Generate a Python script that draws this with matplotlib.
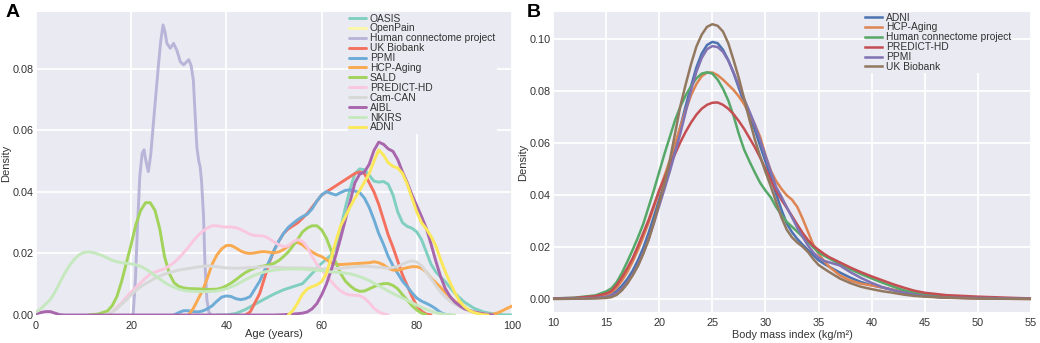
import matplotlib
matplotlib.use("Agg")
import matplotlib.pyplot as plt

plt.rcParams['font.family'] = ['Liberation Sans', 'DejaVu Sans']

# ---------------- Panel A : age densities ----------------
oasis_age = [38, 40, 42, 44, 46, 48, 50, 52, 54, 56, 58, 60, 62, 63, 64, 65, 66, 67, 68, 69, 70, 71, 72, 73, 74, 75,
             76, 77, 78, 79, 80, 81, 82, 83, 84, 86, 88, 90, 92, 94, 96, 98, 100]
oasis_den = [0, 0.0, 0.0005, 0.0018, 0.0035, 0.0052, 0.0068, 0.0082, 0.0092, 0.0102, 0.0135, 0.0168, 0.0195, 0.022,
             0.028, 0.035, 0.041, 0.046, 0.0475, 0.0472, 0.0455, 0.0435, 0.0432, 0.0434, 0.0425, 0.039, 0.0335, 0.030,
             0.0288, 0.0282, 0.027, 0.0245, 0.0205, 0.0165, 0.014, 0.0108, 0.007, 0.0042, 0.0022, 0.001, 0.0004,
             0.0001, 0]

openpain_age = []
openpain_den = []

hcp_age = [20.4, 20.9, 21.3, 21.8, 22.3, 22.7, 23.1, 23.6, 24.1, 24.6, 25.2, 25.7, 26.2, 26.7, 27.1, 27.5, 28.2,
           28.9, 29.6, 30.3, 31.0, 31.7, 32.1, 32.6, 33.05, 33.4, 33.8, 34.2, 34.5, 34.8, 35.2, 35.5, 35.9, 36.3, 36.8]
hcp_den = [0, 0.012, 0.028, 0.045, 0.0525, 0.0537, 0.050, 0.0466, 0.052, 0.0612, 0.072, 0.0808, 0.089, 0.0943, 0.092,
           0.0883, 0.0867, 0.0883, 0.086, 0.0824, 0.0813, 0.0824, 0.083, 0.081, 0.0764, 0.066, 0.0545, 0.050, 0.048,
           0.043, 0.032, 0.0165, 0.005, 0.001, 0]

ukb_age = [44, 45, 46, 47, 48, 49, 50, 51, 52, 53, 54, 55, 56, 57, 58, 59, 60, 61, 62, 63, 64, 65, 66, 67, 68, 69, 70,
           71, 72, 73, 74, 75, 76, 77, 78, 79, 80, 81, 82, 83]
ukb_den = [0, 0.001, 0.004, 0.007, 0.012, 0.017, 0.021, 0.024, 0.0265, 0.028, 0.029, 0.030, 0.0315, 0.033, 0.035, 0.037,
           0.039, 0.040, 0.041, 0.042, 0.043, 0.044, 0.045, 0.046, 0.0465, 0.046, 0.043, 0.040, 0.036, 0.031, 0.026,
           0.022, 0.0175, 0.013, 0.0095, 0.006, 0.003, 0.0012, 0.0003, 0]

ppmi_age = [29, 30, 31, 32, 33, 34, 35, 36, 37, 38, 39, 40, 41, 42, 43, 44, 45, 46, 47, 48, 49, 50, 51, 52, 53, 54, 55,
            56, 57, 58, 59, 60, 61, 62, 63, 64, 65, 66, 67, 68, 69, 70, 71, 72, 73, 74, 75, 76, 77, 78, 79, 80, 81, 82,
            83, 84, 85, 86, 87]
ppmi_den = [0, 0.0008, 0.0014, 0.0014, 0.0011, 0.001, 0.0013, 0.002, 0.003, 0.0045, 0.0058, 0.0062, 0.006, 0.0053,
            0.005, 0.0053, 0.006, 0.0085, 0.011, 0.0145, 0.0175, 0.021, 0.024, 0.0265, 0.0285, 0.0298, 0.031, 0.032,
            0.0328, 0.0345, 0.037, 0.039, 0.0401, 0.0395, 0.039, 0.0398, 0.0405, 0.0407, 0.0403, 0.0398, 0.038, 0.035,
            0.031, 0.0265, 0.023, 0.019, 0.016, 0.0135, 0.011, 0.0092, 0.0072, 0.0055, 0.0045, 0.0038, 0.003, 0.002,
            0.0008, 0.0002, 0]

hcpa_age = [32, 33, 34, 35, 36, 37, 38, 39, 40, 41, 42, 43, 44, 45, 46, 47, 48, 49, 50, 51, 52, 53, 54, 55, 56, 57, 58,
            59, 60, 61, 62, 63, 64, 66, 68, 70, 71, 72, 73, 74, 75, 76, 77, 78, 79, 80, 81, 82, 83, 84, 85, 86, 87, 88,
            89, 90, 91, 92, 93, 94, 95, 96, 97, 98, 99, 100]
hcpa_den = [0, 0.002, 0.005, 0.008, 0.012, 0.0165, 0.0195, 0.0215, 0.0226, 0.0226, 0.0218, 0.0208, 0.0202, 0.020,
            0.0202, 0.0205, 0.0206, 0.0204, 0.0202, 0.0205, 0.0213, 0.0224, 0.0233, 0.0236, 0.0228, 0.0215, 0.0205,
            0.0196, 0.019, 0.018, 0.017, 0.0165, 0.0164, 0.0166, 0.0168, 0.017, 0.0173, 0.017, 0.0163, 0.0152, 0.0146,
            0.0146, 0.015, 0.0154, 0.0157, 0.0157, 0.0152, 0.014, 0.012, 0.0105, 0.009, 0.0073, 0.0058, 0.0045, 0.0033,
            0.0023, 0.0015, 0.0009, 0.0005, 0.0003, 0.0002, 0.0003, 0.0007, 0.0014, 0.0022, 0.0029]

sald_age = [11, 13, 15, 16, 17, 18, 19, 20, 21, 22, 23, 24, 25, 26, 27, 28, 29, 30, 31, 32, 34, 36, 38, 39, 40, 41, 42,
            43, 44, 45, 46, 47, 48, 49, 50, 51, 52, 53, 54, 55, 56, 57, 58, 59, 60, 61, 62, 63, 64, 65, 66, 67, 68,
            69, 70, 71, 72, 73, 74, 75, 76, 77, 78, 79, 80, 81, 82]
sald_den = [0, 0.0003, 0.0013, 0.003, 0.006, 0.011, 0.017, 0.023, 0.0295, 0.034, 0.0365, 0.0365, 0.034, 0.028, 0.019,
            0.0135, 0.0105, 0.0093, 0.0088, 0.0086, 0.0085, 0.0083, 0.0084, 0.0088, 0.0095, 0.0104, 0.0115, 0.0127,
            0.0138, 0.0146, 0.0153, 0.0157, 0.016, 0.0163, 0.0168, 0.0177, 0.019, 0.0205, 0.0225, 0.0247, 0.027,
            0.0283, 0.029, 0.029, 0.0277, 0.025, 0.021, 0.017, 0.0135, 0.011, 0.0095, 0.0083, 0.0077, 0.0078, 0.0085,
            0.0092, 0.0098, 0.0102, 0.0102, 0.0096, 0.0085, 0.0066, 0.0048, 0.003, 0.0016, 0.0006, 0]

phd_age = [15, 16, 17, 18, 19, 20, 21, 22, 23, 24, 25, 26, 27, 28, 29, 30, 31, 32, 33, 34, 35, 36, 37, 38, 39, 40, 41,
           42, 43, 44, 45, 46, 47, 48, 49, 50, 51, 52, 53, 54, 55, 56, 57, 58, 59, 60, 61, 62, 63, 64, 65, 66, 67, 68,
           69, 70, 71, 72, 73, 74]
phd_den = [0, 0.001, 0.0025, 0.004, 0.0058, 0.0075, 0.009, 0.0105, 0.012, 0.0133, 0.014, 0.0145, 0.015, 0.016, 0.017,
           0.0185, 0.0202, 0.022, 0.024, 0.0258, 0.0272, 0.0283, 0.029, 0.029, 0.0287, 0.0286, 0.0286, 0.0284, 0.0278,
           0.027, 0.0262, 0.0258, 0.0258, 0.0256, 0.0248, 0.0238, 0.0228, 0.0222, 0.0225, 0.0238, 0.0245, 0.024,
           0.022, 0.019, 0.0165, 0.0148, 0.0128, 0.011, 0.0092, 0.0078, 0.0069, 0.0065, 0.0064, 0.0063, 0.0055, 0.004,
           0.0022, 0.001, 0.0004, 0]

camcan_age = [15, 16, 17, 18, 19, 20, 21, 22, 23, 24, 25, 26, 27, 28, 29, 30, 32, 34, 36, 38, 40, 42, 44, 46, 48, 50,
              52, 54, 56, 58, 60, 62, 64, 66, 68, 70, 72, 74, 76, 78, 79, 80, 81, 82, 83, 84, 85, 86, 87, 88, 89, 90,
              92, 94, 96]
camcan_den = [0, 0.001, 0.002, 0.0035, 0.005, 0.0065, 0.008, 0.0092, 0.0102, 0.011, 0.012, 0.0127, 0.0133, 0.0138,
              0.0142, 0.0146, 0.0151, 0.0156, 0.016, 0.0157, 0.0153, 0.0152, 0.0153, 0.0155, 0.0157, 0.0156, 0.0154,
              0.0153, 0.0153, 0.0152, 0.015, 0.015, 0.0152, 0.0155, 0.0158, 0.0158, 0.0155, 0.0152, 0.0158, 0.0172,
              0.0176, 0.0172, 0.016, 0.014, 0.0118, 0.0095, 0.0075, 0.0058, 0.0045, 0.0035, 0.0027, 0.002, 0.001,
              0.0004, 0]

aibl_age = [0, 1, 2, 3, 4, 5, 6, 50, 52, 54, 56, 57, 58, 59, 60, 61, 62, 63, 64, 65, 66, 67, 68, 69, 70, 71, 72, 73,
            74, 75, 76, 77, 78, 79, 80, 81, 82, 83, 84, 85, 86, 87, 88, 89, 90, 92, 94, 96]
aibl_den = [0.0004, 0.0008, 0.0011, 0.0011, 0.0006, 0.0001, 0, 0, 0.0001, 0.0003, 0.0006, 0.001, 0.002, 0.0037, 0.0065,
            0.01, 0.0145, 0.0195, 0.025, 0.031, 0.037, 0.043, 0.0458, 0.0465, 0.049, 0.0535, 0.0562, 0.0555, 0.054,
            0.0532, 0.0505, 0.0465, 0.043, 0.039, 0.0355, 0.032, 0.0282, 0.023, 0.0175, 0.0125, 0.0085, 0.006, 0.0042,
            0.003, 0.002, 0.001, 0.0004, 0]

nkirs_age = [0, 1, 2, 3, 4, 5, 6, 7, 8, 9, 10, 11, 12, 13, 14, 15, 16, 17, 18, 19, 20, 21, 22, 23, 24, 25, 26, 27, 28,
             29, 30, 31, 32, 34, 36, 38, 40, 42, 44, 46, 48, 50, 52, 54, 56, 58, 60, 62, 64, 66, 68, 70, 72, 74, 76,
             78, 80, 82, 84, 86, 88]
nkirs_den = [0.001, 0.002, 0.0035, 0.005, 0.0075, 0.0105, 0.0135, 0.016, 0.018, 0.0195, 0.0203, 0.0205, 0.0203, 0.0198,
             0.0193, 0.0185, 0.0178, 0.0173, 0.017, 0.0168, 0.0166, 0.0163, 0.0158, 0.015, 0.014, 0.0128, 0.0117,
             0.0106, 0.0097, 0.009, 0.0084, 0.008, 0.0078, 0.0076, 0.0076, 0.0078, 0.0085, 0.0098, 0.0115, 0.013,
             0.014, 0.0146, 0.0149, 0.015, 0.0149, 0.0147, 0.0144, 0.014, 0.0138, 0.0134, 0.0125, 0.0112, 0.0095,
             0.0078, 0.0062, 0.0048, 0.0032, 0.0018, 0.0007, 0.0002, 0]

adni_age = [53, 54, 55, 56, 57, 58, 59, 60, 61, 62, 63, 64, 65, 66, 67, 68, 69, 70, 71, 72, 73, 74, 75, 76, 77, 78, 79,
            80, 81, 82, 83, 84, 85, 86, 87, 88, 89, 90, 91, 92, 93, 94, 95]
adni_den = [0, 0.0015, 0.004, 0.0068, 0.0085, 0.0092, 0.0098, 0.0108, 0.0135, 0.0185, 0.024, 0.029, 0.032, 0.0352,
            0.038, 0.0405, 0.0432, 0.046, 0.050, 0.0537, 0.052, 0.0495, 0.0483, 0.0478, 0.046, 0.0425, 0.038, 0.0335,
            0.030, 0.028, 0.0255, 0.0225, 0.018, 0.014, 0.0105, 0.0072, 0.0045, 0.0027, 0.0015, 0.0008, 0.0004,
            0.0001, 0]

labels_a = ['OASIS', 'OpenPain', 'Human connectome project', 'UK Biobank', 'PPMI', 'HCP-Aging', 'SALD',
            'PREDICT-HD', 'Cam-CAN', 'AIBL', 'NKIRS', 'ADNI']
colors_a = ['#80cfc0', '#fbf7a8', '#b8b5d9', '#f4705f', '#6dacd6', '#f9a94f', '#a2d35a',
            '#f9c8de', '#d8d8d8', '#a866ad', '#c6e8bf', '#fbe85a']
series_a = [(oasis_age, oasis_den), (openpain_age, openpain_den), (hcp_age, hcp_den), (ukb_age, ukb_den),
            (ppmi_age, ppmi_den), (hcpa_age, hcpa_den), (sald_age, sald_den), (phd_age, phd_den),
            (camcan_age, camcan_den), (aibl_age, aibl_den), (nkirs_age, nkirs_den), (adni_age, adni_den)]

# ---------------- Panel B : BMI densities ----------------
bmi_grid = [10, 12, 14, 15, 15.5, 16, 16.5, 17, 17.5, 18, 18.5, 19, 19.5, 20, 20.5, 21, 21.5, 22, 22.5, 23, 23.5,
            24, 24.5, 25, 25.5, 26, 26.5, 27, 27.5, 28, 28.5, 29, 29.5, 30, 30.5, 31, 31.5, 32, 32.5, 33, 33.5, 34,
            34.5, 35, 35.5, 36, 37, 38, 39, 40, 41, 42, 43, 44, 45, 47, 50, 55]

adni_bmi = [0.0002, 0.0003, 0.0006, 0.0012, 0.0019, 0.0032, 0.0052, 0.0078, 0.011, 0.015, 0.0198, 0.0255, 0.0318,
            0.0385, 0.0447, 0.0512, 0.0585, 0.0665, 0.0745, 0.082, 0.0892, 0.0945, 0.0978, 0.099, 0.0985, 0.096,
            0.092, 0.087, 0.0812, 0.0755, 0.0705, 0.0652, 0.059, 0.053, 0.047, 0.0405, 0.0345, 0.0292, 0.0258, 0.0232,
            0.021, 0.019, 0.017, 0.015, 0.0137, 0.0125, 0.0103, 0.0083, 0.0066, 0.0054, 0.0045, 0.0036, 0.0026,
            0.0018, 0.0012, 0.0007, 0.0004, 0.0002]
hcpa_bmi = [0.0002, 0.0004, 0.0008, 0.0016, 0.0027, 0.0045, 0.0072, 0.0105, 0.0145, 0.019, 0.024, 0.0295, 0.0355,
            0.0415, 0.0475, 0.0535, 0.060, 0.0665, 0.0728, 0.0785, 0.0828, 0.0858, 0.0872, 0.0872, 0.0862, 0.0845,
            0.0825, 0.0805, 0.078, 0.075, 0.0713, 0.0672, 0.0625, 0.0555, 0.0495, 0.0455, 0.0425, 0.040, 0.0383,
            0.0355, 0.031, 0.026, 0.021, 0.0175, 0.0148, 0.0125, 0.0092, 0.0072, 0.006, 0.0053, 0.0046, 0.0037,
            0.0028, 0.002, 0.0014, 0.0007, 0.0003, 0.0001]
hcp_bmi = [0.0003, 0.0006, 0.0015, 0.003, 0.0042, 0.0066, 0.0102, 0.0145, 0.019, 0.0238, 0.029, 0.0355, 0.042, 0.049,
           0.056, 0.0625, 0.069, 0.0742, 0.0785, 0.082, 0.085, 0.0868, 0.0873, 0.0868, 0.0845, 0.081, 0.0765, 0.0705,
           0.0635, 0.0575, 0.053, 0.0488, 0.0448, 0.0418, 0.0392, 0.0355, 0.0325, 0.0298, 0.0279, 0.026, 0.024,
           0.022, 0.02, 0.018, 0.0168, 0.0157, 0.0135, 0.0115, 0.0097, 0.008, 0.0064, 0.0049, 0.0035, 0.0025,
           0.0018, 0.0011, 0.0005, 0.0002]
phd_bmi = [0.0003, 0.0005, 0.0012, 0.0022, 0.0032, 0.0055, 0.0085, 0.012, 0.0158, 0.0205, 0.0255, 0.0305, 0.0362,
           0.042, 0.0468, 0.0515, 0.056, 0.0605, 0.0645, 0.068, 0.071, 0.0733, 0.0748, 0.0756, 0.0757, 0.0748, 0.0733,
           0.0712, 0.0685, 0.0655, 0.062, 0.0585, 0.0545, 0.0502, 0.0458, 0.0418, 0.0383, 0.0352, 0.032, 0.0287,
           0.0255, 0.0228, 0.0206, 0.019, 0.0175, 0.0162, 0.0142, 0.0122, 0.0104, 0.0088, 0.0073, 0.0058, 0.0045,
           0.0033, 0.0025, 0.0016, 0.001, 0.0003]
ppmi_bmi = [0.0002, 0.0003, 0.0005, 0.0009, 0.0015, 0.0026, 0.0042, 0.0065, 0.0095, 0.0132, 0.0178, 0.0232, 0.0293,
            0.036, 0.0425, 0.0492, 0.0565, 0.064, 0.0722, 0.0805, 0.0875, 0.0928, 0.0962, 0.0974, 0.097, 0.0952,
            0.0918, 0.0872, 0.0822, 0.077, 0.0722, 0.0672, 0.0612, 0.0552, 0.0492, 0.0432, 0.0395, 0.0355, 0.0315,
            0.0275, 0.024, 0.0207, 0.018, 0.016, 0.0148, 0.0142, 0.013, 0.0104, 0.0082, 0.0063, 0.0047, 0.0035,
            0.0026, 0.0018, 0.0012, 0.0006, 0.0005, 0.0002]
ukb_bmi = [0.0001, 0.0002, 0.0003, 0.0005, 0.0008, 0.0017, 0.0035, 0.006, 0.0092, 0.0128, 0.0175, 0.0228, 0.0295,
           0.0372, 0.0445, 0.0535, 0.064, 0.0745, 0.0828, 0.0905, 0.0972, 0.1018, 0.1048, 0.1058, 0.1052, 0.103,
           0.0985, 0.092, 0.085, 0.077, 0.069, 0.0615, 0.055, 0.049, 0.0435, 0.0375, 0.0315, 0.0268, 0.0238, 0.0218,
           0.0202, 0.0182, 0.0155, 0.0132, 0.0118, 0.0105, 0.008, 0.0062, 0.0048, 0.0039, 0.0031, 0.0025, 0.0018,
           0.0013, 0.001, 0.0006, 0.0003, 0.0001]

labels_b = ['ADNI', 'HCP-Aging', 'Human connectome project', 'PREDICT-HD', 'PPMI', 'UK Biobank']
colors_b = ['#4C72B0', '#DD8452', '#55A868', '#C44E52', '#8172B3', '#937860']
series_b = [adni_bmi, hcpa_bmi, hcp_bmi, phd_bmi, ppmi_bmi, ukb_bmi]

W, H = 1040, 343
fig = plt.figure(figsize=(W / 100, H / 100), dpi=100)
fig.patch.set_facecolor('white')

bg = '#EAEAF2'
txt = '#333333'


def style(ax):
    ax.set_facecolor(bg)
    for s in ax.spines.values():
        s.set_visible(False)
    ax.grid(True, color='white', linewidth=1.3)
    ax.set_axisbelow(True)
    ax.tick_params(length=0, labelsize=7.8, colors=txt)
    ax.tick_params(axis='x', pad=4)
    ax.tick_params(axis='y', pad=1.5)


axA = fig.add_axes([36 / W, (H - 315) / H, 476 / W, 303 / H])
style(axA)
for (xs, ys), lab, col in zip(series_a, labels_a, colors_a):
    axA.plot(xs, ys, color=col, lw=2.1, label=lab, solid_capstyle='round')
axA.set_xlim(0, 100)
axA.set_ylim(0, 0.0985)
axA.set_xticks([0, 20, 40, 60, 80, 100])
axA.set_yticks([0.0, 0.02, 0.04, 0.06, 0.08])
axA.set_yticklabels(['0.00', '0.02', '0.04', '0.06', '0.08'])
axA.set_xlabel('Age (years)', fontsize=8, color=txt)
axA.set_ylabel('Density', fontsize=8, color=txt)
axA.xaxis.set_label_coords(0.5, -0.045)
axA.yaxis.set_label_coords(-0.052, 0.5)
legA = axA.legend(loc='upper left', bbox_to_anchor=(0.655, 1.0), fontsize=7.4, frameon=True,
                  facecolor=bg, edgecolor='none', framealpha=1, fancybox=False,
                  labelspacing=-0.01, handlelength=1.6, handletextpad=0.4, borderpad=0.15,
                  borderaxespad=0)
for t in legA.get_texts():
    t.set_color(txt)

axB = fig.add_axes([553 / W, (H - 312) / H, 478 / W, 300 / H])
style(axB)
for ys, lab, col in zip(series_b, labels_b, colors_b):
    axB.plot(bmi_grid, ys, color=col, lw=1.8, label=lab)
axB.set_xlim(10, 55)
axB.set_ylim(-0.0049, 0.1105)
axB.set_xticks(list(range(10, 56, 5)))
axB.set_yticks([0.0, 0.02, 0.04, 0.06, 0.08, 0.10])
axB.set_yticklabels(['0.00', '0.02', '0.04', '0.06', '0.08', '0.10'])
axB.set_xlabel('Body mass index (kg/m\u00b2)', fontsize=7.8, color=txt)
axB.set_ylabel('Density', fontsize=8, color=txt)
axB.xaxis.set_label_coords(0.5, -0.06)
axB.yaxis.set_label_coords(-0.052, 0.5)
legB = axB.legend(loc='upper left', bbox_to_anchor=(0.652, 1.0), fontsize=7.4, frameon=True,
                  facecolor=bg, edgecolor='none', framealpha=1, fancybox=False,
                  labelspacing=-0.01, handlelength=1.6, handletextpad=0.4, borderpad=0.05,
                  borderaxespad=0)
for t in legB.get_texts():
    t.set_color(txt)

fig.text(6 / W, 1 - 4 / H, 'A', fontsize=14, fontweight='bold', va='top', ha='left', color='black')
fig.text(527 / W, 1 - 4 / H, 'B', fontsize=14, fontweight='bold', va='top', ha='left', color='black')

fig.savefig('out.png', dpi=100, facecolor='white')
